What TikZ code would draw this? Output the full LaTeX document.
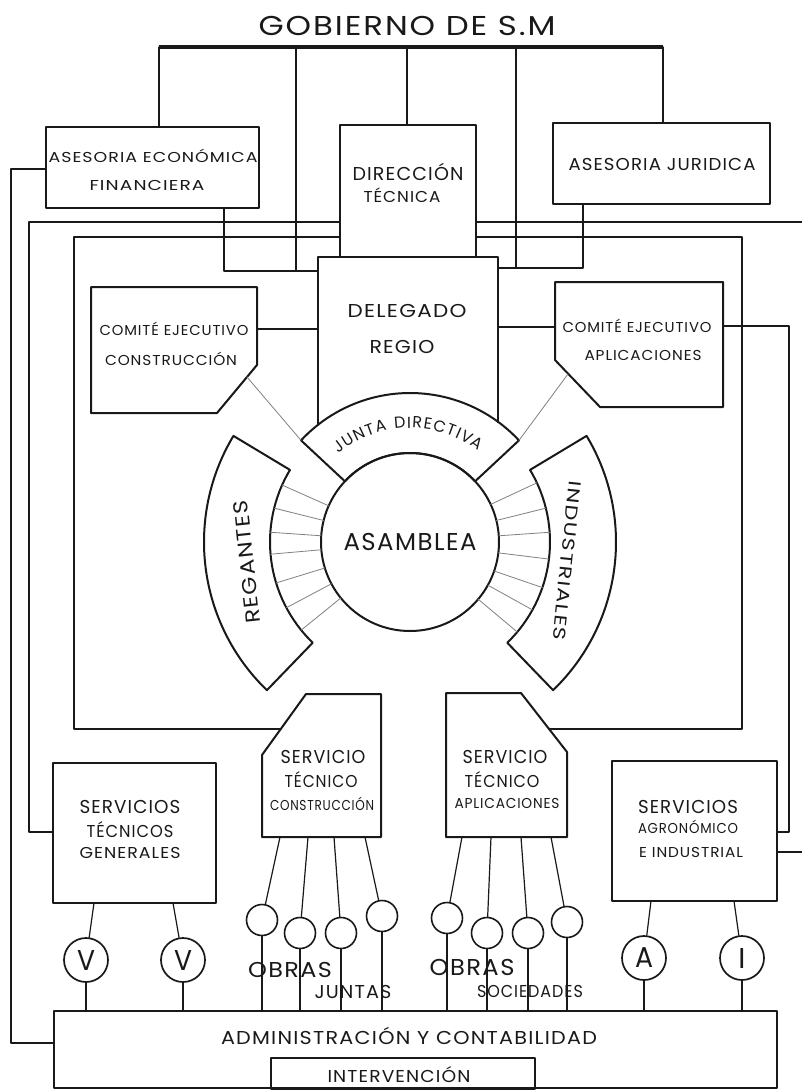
\documentclass[tikz,border=0pt]{standalone}
\usepackage{fontspec}
\setmainfont{Poppins}[LetterSpace=6]
\usepackage{graphicx}
\usetikzlibrary{decorations.text}
\definecolor{ink}{rgb}{0.1,0.1,0.1}
\newsavebox\fitbox
\newsavebox\capbox
\newcommand\fitt[3]{\sbox\fitbox{#3}\sbox\capbox{H}\pgfmathsetmacro\fitsx{#1/\the\wd\fitbox}\pgfmathsetmacro\fitsy{#2/\the\ht\capbox}\scalebox{\fitsx}[\fitsy]{\usebox\fitbox}}
\newcommand\fitc[2]{\sbox\capbox{H}\pgfmathsetmacro\fitsy{#1/\the\ht\capbox}\scalebox{\fitsy}{#2}}
\newcommand\jfont{\fontsize{16}{16}\selectfont}
\tikzset{
  box/.style={draw=ink, line width=2pt},
  rbox/.style={box, rectangle, inner sep=0pt, outer sep=0pt},
  frame/.style={draw=ink, line width=1.4pt},
  conn/.style={draw=ink, line width=1.2pt},
  spoke/.style={draw=ink!55, line width=0.8pt},
  txt/.style={anchor=base, inner sep=0pt, text=ink},
  bigc/.style={circle, draw=ink, line width=1.7pt, minimum size=44pt, inner sep=0pt, text=ink},
  smallc/.style={circle, draw=ink, line width=1.6pt, minimum size=31pt, inner sep=0pt},
}
\begin{document}
\begin{tikzpicture}[x=1pt,y=-1pt,line join=round,line cap=round]
\useasboundingbox (0,0) rectangle (801,1090);
\fill[white] (0,0) rectangle (801,1090);

% ---------- title and bar
\node[txt] (title) at (407,35) {\fitt{297}{19}{GOBIERNO DE S.M}};
\coordinate (barL) at (159,47);
\coordinate (barR) at (663,47);
\draw[ink, line width=4.5pt, line cap=butt] (barL) -- (barR);

% ---------- frames (drawn first)
\draw[frame] (340,222) -- (29,222) -- (29,832) -- (53,832);
\draw[frame] (476,222) -- (806,222);
\draw[frame] (777,852) -- (806,852);
\draw[frame] (340,237) -- (74,237) -- (74,729) -- (281,729);
\draw[frame] (476,237) -- (742,237) -- (742,729) -- (549,729);
\draw[frame] (46,169) -- (11,169) -- (11,1043) -- (54,1043);
\draw[frame] (723,326) -- (789,326) -- (789,832) -- (777,832);

% ---------- top boxes
\node[rbox, minimum width=213pt, minimum height=81pt] (aef) at (152.5,167.5) {};
\node[rbox, minimum width=136pt, minimum height=132pt] (dt) at (408,191) {};
\node[rbox, minimum width=217pt, minimum height=81pt] (aj) at (661.5,163.5) {};

\node[txt] (aef1) at (153,162) {\fitt{209}{10}{ASESORIA ECONÓMICA}};
\node[txt] (aef2) at (147,190) {\fitt{115}{10}{FINANCIERA}};
\node[txt] (dt1) at (408,180) {\fitt{111}{13}{DIRECCIÓN}};
\node[txt] (dt2) at (402,202) {\fitt{77}{11}{TÉCNICA}};
\node[txt] (aj1) at (662,170) {\fitt{187}{12}{ASESORIA JURIDICA}};

% ---------- connectors from the bar
\draw[conn] (barL) -- (barL |- aef.north);
\draw[conn] (296,47) -- (296,271);
\draw[conn] (407,47) -- (407,125);
\draw[conn] (516,47) -- (516,268);
\draw[conn] (barR) -- (barR |- aj.north);
\draw[conn] (224,208) -- (224,271) -- (318,271);
\draw[conn] (583,204) -- (583,268) -- (498,268);

% ---------- comites
\draw[box] (91,287) -- (257,287) -- (257,365) -- (217,413) -- (91,413) -- cycle;
\draw[box] (555,282) -- (723,282) -- (723,407) -- (600,407) -- (555,360) -- cycle;
\node[txt] (cc1) at (174,335) {\fitt{149}{10}{COMITÉ EJECUTIVO}};
\node[txt] (cc2) at (171,365) {\fitt{132}{10}{CONSTRUCCIÓN}};
\node[txt] (ca1) at (637,332) {\fitt{149}{10}{COMITÉ EJECUTIVO}};
\node[txt] (ca2) at (643,360) {\fitt{117}{10}{APLICACIONES}};
\draw[conn] (257,329) -- (318,329);
\draw[conn] (498,327) -- (555,327);

% ---------- delegado regio
\draw[box] (318,425) -- (318,257) -- (498,257) -- (498,422);
\node[txt] (dr1) at (407,317) {\fitt{119}{13}{DELEGADO}};
\node[txt] (dr2) at (402,353) {\fitt{65}{13}{REGIO}};

% ---------- asamblea and sectors
\node[circle, draw=ink, line width=2pt, minimum size=178pt, inner sep=0pt, text=ink] (asam) at (410,542) {\fitt{133}{17}{ASAMBLEA}};
\begin{scope}[shift={(410,542)}]
  \draw[box] (-137:89) -- (-137:149) arc[start angle=-137, end angle=-43, radius=149] -- (-43:89) arc[start angle=-43, end angle=-137, radius=89] -- cycle;
  \coordinate (jl) at (-137:149);
  \coordinate (jr) at (-43:149);
  \draw[box] (134:140) -- (134:206) arc[start angle=134, end angle=211, radius=206] -- (211:140) arc[start angle=211, end angle=134, radius=140] -- cycle;
  \draw[box] (-31:140) -- (-31:206) arc[start angle=-31, end angle=46, radius=206] -- (46:140) arc[start angle=46, end angle=-31, radius=140] -- cycle;
  \foreach \t in {204,194,184,175,163,152,141,-25,-14,-4,7,19,29,40}
    \draw[spoke] (\t:89) -- (\t:140);
  \path[decorate, decoration={text along path, text={|\jfont\color{ink}|JUNTA DIRECTIVA}, text align={fit to path}}]
    (-129:114) arc[start angle=-129, end angle=-53, radius=114];
\end{scope}
\node[txt, anchor=center, rotate=96] (reg) at (247,562) {\fitt{124}{14}{REGANTES}};
\node[txt, anchor=center, rotate=-96] (ind) at (567,561) {\fitt{160}{12}{INDUSTRIALES}};
\draw[spoke] (247,377) -- (jl);
\draw[spoke] (568,374) -- (jr);

% ---------- servicios tecnicos
\draw[box] (306,694) -- (381,694) -- (381,837) -- (262,837) -- (262,755) -- cycle;
\draw[box] (446,693) -- (521,693) -- (567,752) -- (567,837) -- (446,837) -- cycle;
\node[txt] (sc1) at (323,763) {\fitt{85}{13}{SERVICIO}};
\node[txt] (sc2) at (321,787) {\fitt{73}{12}{TÉCNICO}};
\node[txt] (sc3) at (322,810) {\fitt{104}{10}{CONSTRUCCIÓN}};
\node[txt] (sp1) at (505,763) {\fitt{85}{13}{SERVICIO}};
\node[txt] (sp2) at (502,787) {\fitt{75}{12}{TÉCNICO}};
\node[txt] (sp3) at (507,808) {\fitt{105}{10}{APLICACIONES}};

\node[rbox, minimum width=163pt, minimum height=140pt] (sg) at (134.5,833) {};
\node[rbox, minimum width=165pt, minimum height=140pt] (sa) at (694.5,831) {};
\node[txt] (sg1) at (130,813) {\fitt{101}{13}{SERVICIOS}};
\node[txt] (sg2) at (130,837) {\fitt{87}{12}{TÉCNICOS}};
\node[txt] (sg3) at (130,858) {\fitt{101}{11}{GENERALES}};
\node[txt] (sa1) at (688,813) {\fitt{100}{13}{SERVICIOS}};
\node[txt] (sa2) at (688,833) {\fitt{100}{10}{AGRONÓMICO}};
\node[txt] (sa3) at (691,857) {\fitt{104}{10}{E INDUSTRIAL}};

% ---------- administracion
\node[rbox, minimum width=723pt, minimum height=77pt] (adm) at (415.5,1049.5) {};
\node[rbox, minimum width=264pt, minimum height=31pt] (itv) at (403,1073.5) {};
\node[txt] (adm1) at (409,1044) {\fitt{376}{13}{ADMINISTRACIÓN Y CONTABILIDAD}};
\node[txt] (itv1) at (399,1082) {\fitt{143}{12}{INTERVENCIÓN}};

% ---------- big circles
\node[bigc] (v1) at (86,960) {\fitt{18}{20}{V}};
\node[bigc] (v2) at (183,960) {\fitt{18}{20}{V}};
\node[bigc] (ca) at (644,958) {\fitt{18}{20}{A}};
\node[bigc] (ci) at (742,958) {\fitc{20}{I}};
\draw[conn] (94,903) -- (v1);
\draw[conn] (173,903) -- (v2);
\draw[conn] (651,901) -- (ca);
\draw[conn] (734,901) -- (ci);
\foreach \n in {v1,v2,ca,ci}
  \draw[conn] (\n.south) -- (\n.south |- adm.north);

% ---------- small circles
\node[smallc] (c1) at (262,920) {};
\node[smallc] (c2) at (300,933) {};
\node[smallc] (c3) at (341,933) {};
\node[smallc] (c4) at (382,916) {};
\node[smallc] (c5) at (447,918) {};
\node[smallc] (c6) at (487,933) {};
\node[smallc] (c7) at (528,933) {};
\node[smallc] (c8) at (567,922) {};
\draw[conn] (280,837) -- (c1);
\draw[conn] (308,837) -- (c2);
\draw[conn] (334,837) -- (c3);
\draw[conn] (365,837) -- (c4);
\draw[conn] (462,837) -- (c5);
\draw[conn] (491,837) -- (c6);
\draw[conn] (521,837) -- (c7);
\draw[conn] (551,837) -- (c8);
\foreach \n in {c1,c2,c3,c4,c5,c6,c7,c8}
  \draw[conn] (\n.south) -- (\n.south |- adm.north);

\node[txt] (ob1) at (290,977) {\fitt{84}{15}{OBRAS}};
\node[txt] (jun) at (353,998) {\fitt{77}{13}{JUNTAS}};
\node[txt] (ob2) at (472,975) {\fitt{85}{16}{OBRAS}};
\node[txt] (soc) at (530,997) {\fitt{106}{12}{SOCIEDADES}};
\end{tikzpicture}
\end{document}
